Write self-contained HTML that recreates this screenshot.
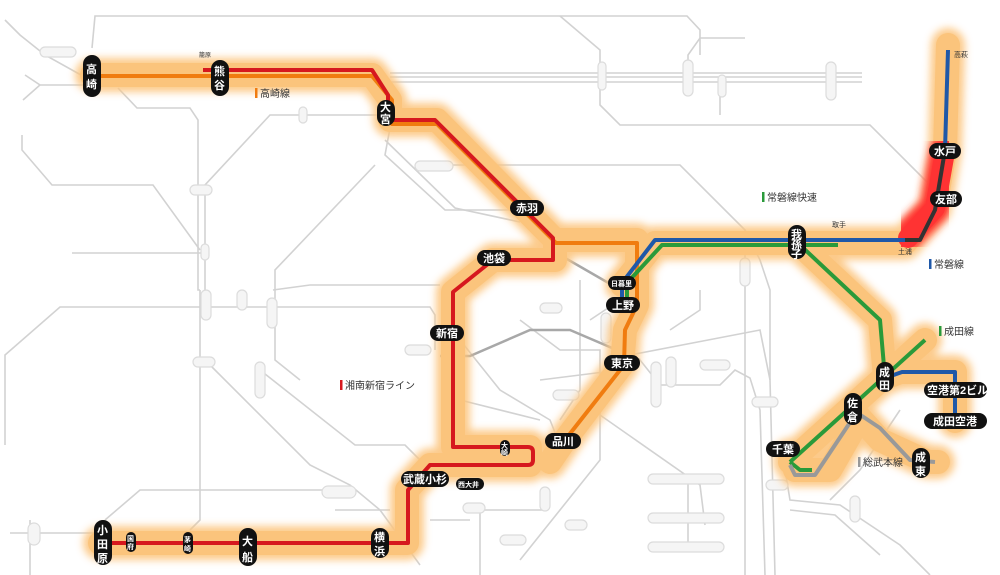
<!DOCTYPE html>
<html><head><meta charset="utf-8"><style>
html,body{margin:0;padding:0;background:#fff;}
svg{display:block;font-family:"Liberation Sans","Noto Sans CJK JP",sans-serif;}
.g{fill:none;stroke:#d2d2d2;stroke-width:1.6}
.gd{fill:none;stroke:#a8a8a8;stroke-width:2.5}
.st text{fill:#fff;font-weight:bold}
</style></head><body>
<svg width="1000" height="575" viewBox="0 0 1000 575" xmlns="http://www.w3.org/2000/svg">
<defs><filter id="b" x="-10%" y="-10%" width="120%" height="120%"><feGaussianBlur stdDeviation="4"/></filter></defs>
<g class="g">
<path d="M92,48 L95,16 L687,16 L700,30 L700,55"/>
<path d="M560,16 L600,50 L600,105 L620,125 L870,125 L935,190"/>
<path d="M390,73 L862,73 M390,77 L862,77 M390,82 L862,82"/>
<path d="M688,90 L688,55 L700,38 L745,38"/>
<path d="M720,80 L720,115"/>
<path d="M5,20 L20,35 L45,55 L90,80"/>
<path d="M25,75 L40,85 L23,100 M40,85 L85,85"/>
<path d="M118,88 L137,108 L190,108 L198,120 L198,290 L200,290"/>
<path d="M385,115 L270,115 L205,185 L205,300"/>
<path d="M22,135 L22,150 L52,185 L153,185 L200,250"/>
<path d="M72,253 L205,253"/>
<path d="M390,128 L385,155 L445,210 L520,210"/>
<path d="M385,140 L455,208 L520,222"/>
<path d="M430,165 L680,165 L745,230 L745,575"/>
<path d="M375,165 L275,270 L275,360 L300,380"/>
<path d="M273,290 L310,285 L440,285"/>
<path d="M88,307 L60,307 L5,355 L5,445"/>
<path d="M88,307 L430,307 L435,315 L435,350"/>
<path d="M200,290 L200,520 L190,530"/>
<path d="M205,360 L310,465 L350,485 L380,510 L420,565"/>
<path d="M260,370 L355,445 L405,445 L425,465"/>
<path d="M105,520 L140,490 L330,490"/>
<path d="M10,533 L100,533 M30,520 L30,575"/>
<path d="M335,510 L390,510"/>
<path d="M460,340 L500,390 L550,420 L560,445"/>
<path d="M520,320 L560,350 L600,350 L600,460 L520,560"/>
<path d="M580,280 L580,390 L560,420"/>
<path d="M590,320 L620,300 M670,330 L700,310 L700,290"/>
<path d="M640,360 L660,385 L720,385 L735,370 L750,378 L760,410 L765,575"/>
<path d="M630,355 L760,330 L770,380 L775,575"/>
<path d="M540,380 L620,370 M460,400 L540,420"/>
<path d="M600,415 L700,485 L705,525"/>
<path d="M688,480 L688,545"/>
<path d="M545,500 L545,510 L480,510 L480,575"/>
<path d="M430,520 L470,520"/>
<path d="M785,470 L790,500 L840,505 L900,545 L930,575"/>
<path d="M790,510 L835,515 L880,555"/>
<path d="M900,410 L860,470 L830,500"/>
<path d="M745,230 L760,260 L770,290 L770,380"/>
</g>
<g class="gd">
<path d="M440,356 L470,356 L530,330 L570,330 L640,360"/>
<path d="M560,255 L612,285"/>
</g>
<g fill="#f5f5f5" stroke="#dcdcdc" stroke-width="1.2">
<rect x="40" y="47" width="36" height="10" rx="5"/><rect x="190" y="185" width="22" height="10" rx="5"/>
<rect x="415" y="161" width="38" height="10" rx="5"/><rect x="598" y="62" width="8" height="28" rx="4"/>
<rect x="683" y="60" width="10" height="36" rx="5"/><rect x="718" y="75" width="8" height="22" rx="4"/>
<rect x="826" y="62" width="10" height="38" rx="5"/><rect x="299" y="107" width="8" height="16" rx="4"/>
<rect x="201" y="244" width="8" height="16" rx="4"/><rect x="201" y="290" width="10" height="30" rx="5"/>
<rect x="237" y="290" width="10" height="20" rx="5"/><rect x="267" y="298" width="10" height="30" rx="5"/>
<rect x="193" y="357" width="22" height="10" rx="5"/><rect x="255" y="362" width="10" height="36" rx="5"/>
<rect x="405" y="345" width="26" height="10" rx="5"/><rect x="322" y="486" width="34" height="12" rx="6"/>
<rect x="28" y="523" width="12" height="22" rx="6"/><rect x="463" y="503" width="22" height="10" rx="5"/>
<rect x="540" y="487" width="10" height="24" rx="5"/><rect x="666" y="357" width="10" height="30" rx="5"/>
<rect x="651" y="362" width="10" height="45" rx="5"/><rect x="601" y="313" width="10" height="30" rx="5"/>
<rect x="740" y="258" width="10" height="28" rx="5"/><rect x="648" y="474" width="76" height="10" rx="5"/>
<rect x="648" y="513" width="76" height="10" rx="5"/><rect x="648" y="542" width="76" height="10" rx="5"/>
<rect x="553" y="390" width="26" height="10" rx="5"/><rect x="500" y="535" width="26" height="10" rx="5"/>
<rect x="700" y="360" width="30" height="10" rx="5"/><rect x="752" y="397" width="26" height="10" rx="5"/>
<rect x="766" y="480" width="22" height="10" rx="5"/><rect x="850" y="496" width="10" height="26" rx="5"/>
<rect x="565" y="520" width="22" height="10" rx="5"/><rect x="540" y="303" width="22" height="10" rx="5"/>
</g>
<g id="halo">
<g fill="none" stroke="#fcc57e" stroke-width="34" stroke-linejoin="round" stroke-linecap="round" filter="url(#b)" opacity="0.9">
<path id="h1" d="M92,75 L372,75 L390,100 L390,120 L437,120 L555,240 L637,240 L637,305 L625,330 L622,365 L565,440 L550,462"/>
<path id="h2" d="M622,285 L655,243 L905,243 L935,208 L945,150 L948,45"/>
<path id="h3" d="M798,243 L880,320 L885,378"/>
<path id="h4" d="M925,340 L790,462"/>
<path id="h5" d="M885,378 L900,372 L955,372 L955,421"/>
<path id="h6" d="M853,410 L880,440 L928,462 L938,462"/>
<path id="h7" d="M790,455 L795,470 L830,470 L853,430"/>
<path id="h8" d="M555,240 L555,260 L493,260 L453,292 L453,447 L530,447 L530,465 L430,465 L407,490 L407,543 L100,543"/>
</g>
<g fill="none" stroke="#fbc47c" stroke-width="24" stroke-linejoin="round" stroke-linecap="round">
<use href="#h1"/><use href="#h2"/><use href="#h3"/><use href="#h4"/><use href="#h5"/><use href="#h6"/><use href="#h7"/><use href="#h8"/>
</g>
</g>
<path d="M905,238 L935,208 L945,150" fill="none" stroke="#ff3030" stroke-width="30" stroke-linejoin="round" stroke-linecap="round" filter="url(#b)"/>
<path d="M908,238 L935,208 L945,152" fill="none" stroke="#f33" stroke-width="20" stroke-linejoin="round" stroke-linecap="round"/>
<g fill="none" stroke-linejoin="round" stroke-width="4">
<path d="M92,76 L372,76 L392,100 L392,124 L437,124 L556,243 L637,243 L637,305 L625,330 L624,365 L565,440" stroke="#f07c10"/>
<path d="M203,70 L372,70 L388,95 L388,120 L435,120 L553,238 L553,260 L493,260 L453,292 L453,447 L528,447 Q533,447 533,452 L533,460 Q533,465 528,465 L430,465 L408,490 L408,543 L100,543" stroke="#d6181e"/>
<path d="M622,300 L622,283 L655,240 L905,240" stroke="#1f58a8"/>
<path d="M627,300 L627,283 L662,245 L838,245" stroke="#2a9a3a"/>
<path d="M800,245 L880,320 L885,378 M925,340 L790,462" stroke="#2a9a3a"/>
<path d="M790,462 L800,470 L812,470" stroke="#2a9a3a"/>
<path d="M905,240 L920,240 L935,210 L945,150" stroke="#333"/>
<path d="M945,150 L948,50" stroke="#1f58a8"/>
<path d="M885,378 L902,372 L955,372 L955,421" stroke="#1f58a8"/>
<path d="M853,410 L880,428 L910,460 L935,462 M790,465 L795,475 L815,475 L853,418" stroke="#999"/>
</g>
<g font-size="10" fill="#333">
<rect x="255" y="88" width="2.5" height="10" fill="#f07c10"/><text x="260" y="97">高崎線</text>
<rect x="762" y="192" width="2.5" height="10" fill="#2a9a3a"/><text x="767" y="201">常磐線快速</text>
<rect x="929" y="259" width="2.5" height="10" fill="#1f58a8"/><text x="934" y="268">常磐線</text>
<rect x="939" y="326" width="2.5" height="10" fill="#2a9a3a"/><text x="944" y="335">成田線</text>
<rect x="340" y="380" width="2.5" height="10" fill="#d6181e"/><text x="345" y="389">湘南新宿ライン</text>
<rect x="858" y="457" width="2.5" height="10" fill="#999"/><text x="863" y="466">総武本線</text>
<text x="199" y="57" font-size="6">籠原</text><text x="832" y="227" font-size="7">取手</text>
<text x="898" y="254" font-size="7">土浦</text><text x="954" y="57" font-size="7">高萩</text>
</g>
<g class="st" fill="#111">
<rect x="83" y="55" width="18" height="42" rx="9"/><rect x="211" y="60" width="18" height="36" rx="9"/>
<rect x="377" y="100" width="18" height="26" rx="9"/><rect x="788" y="225" width="18" height="34" rx="9"/>
<rect x="876" y="362" width="18" height="30" rx="9"/><rect x="844" y="393" width="18" height="32" rx="9"/>
<rect x="912" y="448" width="18" height="30" rx="9"/><rect x="94" y="520" width="18" height="45" rx="9"/>
<rect x="239" y="528" width="18" height="38" rx="9"/><rect x="371" y="528" width="18" height="30" rx="9"/>
<rect x="126" y="532" width="10" height="20" rx="5"/><rect x="183" y="532" width="10" height="22" rx="5"/>
<rect x="500" y="440" width="10" height="16" rx="5"/>
<rect x="510" y="200" width="34" height="16" rx="8"/><rect x="477" y="250" width="34" height="16" rx="8"/>
<rect x="430" y="325" width="34" height="16" rx="8"/><rect x="608" y="276" width="28" height="14" rx="7"/>
<rect x="606" y="297" width="34" height="16" rx="8"/><rect x="604" y="355" width="36" height="16" rx="8"/>
<rect x="545" y="433" width="36" height="16" rx="8"/><rect x="401" y="471" width="48" height="16" rx="8"/>
<rect x="456" y="478" width="28" height="12" rx="6"/><rect x="929" y="143" width="32" height="16" rx="8"/>
<rect x="930" y="191" width="32" height="16" rx="8"/><rect x="766" y="441" width="34" height="16" rx="8"/>
<rect x="924" y="382" width="63" height="16" rx="8"/><rect x="924" y="413" width="63" height="16" rx="8"/>
<text font-size="11">
<tspan x="86" y="73">高</tspan><tspan x="86" y="88">崎</tspan>
<tspan x="214" y="75">熊</tspan><tspan x="214" y="89">谷</tspan>
<tspan x="380" y="111">大</tspan><tspan x="380" y="123">宮</tspan>
<tspan x="791" y="238">我</tspan><tspan x="791" y="248">孫</tspan><tspan x="791" y="258">子</tspan>
<tspan x="879" y="376">成</tspan><tspan x="879" y="389">田</tspan>
<tspan x="847" y="407">佐</tspan><tspan x="847" y="421">倉</tspan>
<tspan x="915" y="461">成</tspan><tspan x="915" y="475">東</tspan>
<tspan x="97" y="534">小</tspan><tspan x="97" y="548">田</tspan><tspan x="97" y="562">原</tspan>
<tspan x="242" y="545">大</tspan><tspan x="242" y="561">船</tspan>
<tspan x="374" y="541">横</tspan><tspan x="374" y="555">浜</tspan>
<tspan x="516" y="212">赤羽</tspan><tspan x="483" y="262">池袋</tspan><tspan x="436" y="337">新宿</tspan>
<tspan x="612" y="309">上野</tspan><tspan x="611" y="367">東京</tspan><tspan x="552" y="445">品川</tspan>
<tspan x="403" y="483">武蔵小杉</tspan><tspan x="934" y="155">水戸</tspan><tspan x="935" y="203">友部</tspan>
<tspan x="772" y="453">千葉</tspan><tspan x="927" y="394">空港第2ビル</tspan><tspan x="933" y="425">成田空港</tspan>
</text>
<text font-size="7"><tspan x="611" y="286">日暮里</tspan><tspan x="458" y="487">西大井</tspan>
<tspan x="127" y="541">国</tspan><tspan x="127" y="549">府</tspan>
<tspan x="184" y="542">茅</tspan><tspan x="184" y="551">崎</tspan>
<tspan x="501" y="448">大</tspan><tspan x="501" y="455">崎</tspan></text>
</g>
</svg>
</body></html>
